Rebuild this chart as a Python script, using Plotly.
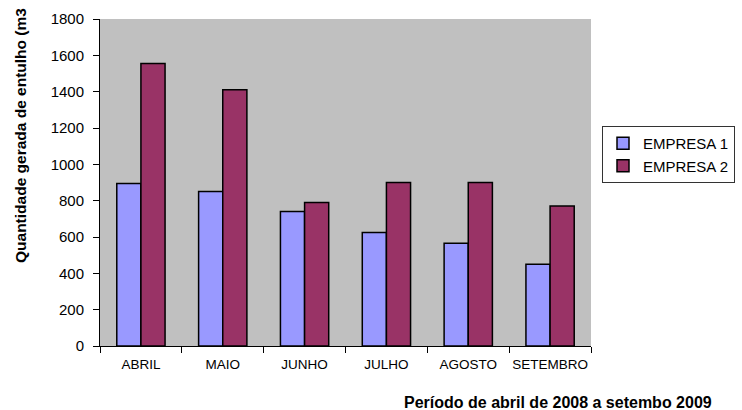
import plotly.graph_objects as go

categories = ["ABRIL", "MAIO", "JUNHO", "JULHO", "AGOSTO", "SETEMBRO"]
empresa1 = [895, 850, 740, 625, 565, 450]
empresa2 = [1555, 1410, 790, 900, 900, 770]
y_ticks = [0, 200, 400, 600, 800, 1000, 1200, 1400, 1600, 1800]

FONT = "Liberation Sans, Arial, sans-serif"

W, H = 742, 410
L, R, T, B = 100, 151, 19, 64
pw, ph = W - L - R, H - T - B


def px2paper(px, py):
    return (px - L) / pw, (H - B - py) / ph


fig = go.Figure()
fig.add_trace(go.Bar(name="EMPRESA 1", x=categories, y=empresa1,
                     marker=dict(color="#9999FF", line=dict(color="#000000", width=1.5))))
fig.add_trace(go.Bar(name="EMPRESA 2", x=categories, y=empresa2,
                     marker=dict(color="#993366", line=dict(color="#000000", width=1.5))))

yx, yy = px2paper(20, 136)
xx, xy = px2paper(558, 402)

fig.update_layout(
    width=W, height=H,
    margin=dict(l=L, r=R, t=T, b=B, autoexpand=False),
    paper_bgcolor="white",
    plot_bgcolor="#C0C0C0",
    barmode="group",
    bargap=0.41,
    bargroupgap=0,
    font=dict(family=FONT, color="black"),
    showlegend=True,
    legend=dict(xref="container", yref="container",
                x=602 / W, xanchor="left", y=1 - 126 / H, yanchor="top",
                bgcolor="white", bordercolor="#333333", borderwidth=1,
                font=dict(size=15, family=FONT), tracegroupgap=0,
                itemwidth=30),
    xaxis=dict(showline=True, linecolor="black", linewidth=1,
               ticks="outside", ticklen=6, tickcolor="black",
               tickson="boundaries", showgrid=False, tickangle=0,
               ticklabelstandoff=6,
               tickfont=dict(size=13.5, family=FONT)),
    yaxis=dict(range=[0, 1800], tickvals=y_ticks, showline=True,
               linecolor="black", linewidth=1, ticks="outside", ticklen=6,
               tickcolor="black", showgrid=False, zeroline=False,
               ticklabelstandoff=6,
               tickfont=dict(size=15, family=FONT)),
    annotations=[
        dict(text="<b>Quantidade gerada de entulho (m3</b>", x=yx, y=yy,
             xref="paper", yref="paper", showarrow=False, textangle=-90,
             xanchor="center", yanchor="middle",
             font=dict(size=15.5, family=FONT)),
        dict(text="<b>Período de abril de 2008 a setembo 2009</b>",
             x=xx, y=xy, xref="paper", yref="paper", showarrow=False,
             xanchor="center", yanchor="middle",
             font=dict(size=16, family=FONT)),
    ],
)

fig.write_html("out.html", config={"displayModeBar": False},
               post_script="document.body.style.margin='0';document.body.style.overflow='hidden';")
